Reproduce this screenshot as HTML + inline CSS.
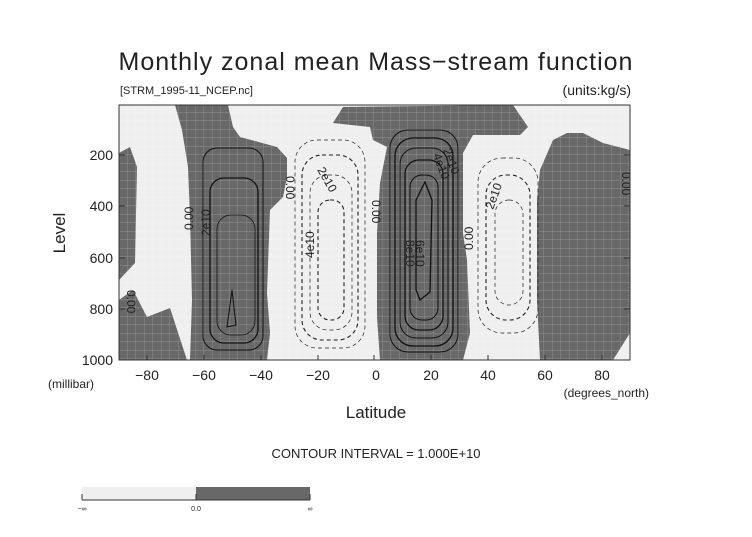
<!DOCTYPE html>
<html><head><style>
body{margin:0;background:#fff;}
svg text{font-family:"Liberation Sans",sans-serif;fill:#222;font-weight:300}
</style></head><body>
<svg width="752" height="532" viewBox="0 0 752 532" xmlns="http://www.w3.org/2000/svg">
<defs>
<pattern id="g" x="119" y="104" width="8.5" height="8.5" patternUnits="userSpaceOnUse">
<path d="M8.5 0V8.5M0 8.5H8.5" stroke="#fff" stroke-opacity="0.35" stroke-width="0.7" fill="none"/>
</pattern>
<clipPath id="c"><rect x="119" y="105" width="511" height="255"/></clipPath>
</defs>
<text x="376" y="70" font-size="25" text-anchor="middle" letter-spacing="1">Monthly zonal mean Mass−stream function</text>
<text x="120" y="94" font-size="11">[STRM_1995-11_NCEP.nc]</text>
<text x="631" y="95" font-size="14" text-anchor="end">(units:kg/s)</text>
<g clip-path="url(#c)">
<rect x="119" y="105" width="511" height="255" fill="#efefef"/>
<g fill="#686868">
<path d="M119 153 L130 147 L137 167 L135 263 L119 280 Z"/>
<path d="M119 300 L133 290 L147 317 L170 308 L187 360 L119 360 Z"/>
<path d="M175 105 L228 105 L233 127 L240 137 L277 147 L287 158 L287 177 L283 197 L270 210 L267 293 L270 333 L267 360 L190 360 L192 300 L190 217 L188 167 L182 130 Z"/>
<path d="M333 123 L343 107 L513 105 L528 127 L520 135 L473 135 L463 153 L463 233 L467 260 L470 333 L463 360 L380 360 L377 317 L377 233 L380 183 L387 147 L373 140 L370 127 Z"/>
<path d="M540 170 L553 140 L567 133 L583 133 L603 143 L630 150 L630 333 L613 360 L540 360 L537 300 L537 200 Z"/>
</g>
<rect x="119" y="105" width="511" height="255" fill="url(#g)"/>
<g fill="none" stroke="#111" stroke-width="1">
<rect x="203" y="148" width="60" height="202" rx="14"/>
<rect x="210" y="178" width="48" height="165" rx="14" stroke-width="1.3"/>
<rect x="217" y="215" width="38" height="120" rx="14" stroke-width="0.8"/>
<path d="M227 327 L232 290 L236 325 Z"/>
<rect x="390" y="130" width="68" height="222" rx="18"/>
<rect x="395" y="138" width="58" height="208" rx="18" stroke-width="1.3"/>
<rect x="400" y="148" width="48" height="190" rx="16"/>
<rect x="405" y="160" width="38" height="170" rx="14" stroke-width="1.3"/>
<rect x="410" y="175" width="28" height="145" rx="12"/>
<path d="M416 200 L425 182 L432 200 L430 292 L420 300 L416 290 Z" stroke-width="1.3"/>
</g>
<g fill="none" stroke="#222" stroke-dasharray="4,3">
<rect x="295" y="140" width="70" height="208" rx="22" stroke-width="0.7"/>
<rect x="302" y="155" width="56" height="185" rx="20" stroke-width="1.1"/>
<rect x="310" y="175" width="42" height="155" rx="18" stroke-width="0.7"/>
<rect x="318" y="200" width="26" height="120" rx="12" stroke-width="1.1"/>
<rect x="478" y="158" width="60" height="175" rx="24" stroke-width="0.7"/>
<rect x="486" y="175" width="44" height="145" rx="20" stroke-width="1.1"/>
<rect x="495" y="200" width="28" height="105" rx="14" stroke-width="0.7"/>
</g>
<g font-size="12">
<text transform="translate(286,176) rotate(90)">0.00</text>
<text transform="translate(193,230) rotate(-90)">0.00</text>
<text transform="translate(210,236) rotate(-90)">2e10</text>
<text transform="translate(317,170) rotate(60)">2e10</text>
<text transform="translate(314,258) rotate(-90)">4e10</text>
<text transform="translate(372,200) rotate(90)">0.00</text>
<text transform="translate(416,240) rotate(90)">6e10</text>
<text transform="translate(406,240) rotate(90)">8e10</text>
<text transform="translate(443,150) rotate(70)">2e10</text>
<text transform="translate(433,155) rotate(70)">4e10</text>
<text transform="translate(473,250) rotate(-90)">0.00</text>
<text transform="translate(493,210) rotate(-70)">2e10</text>
<text transform="translate(622,172) rotate(90)">0.00</text>
<text transform="translate(127,290) rotate(90)">0.00</text>
</g>
</g>
<rect x="119" y="105" width="511" height="255" fill="none" stroke="#333" stroke-width="1"/>
<g stroke="#333">
<path d="M119 155h6M119 206h6M119 258h6M119 309h6M624 155h6M624 206h6M624 258h6M624 309h6"/>
<path d="M147 360v-5M204 360v-5M261 360v-5M318 360v-5M374 360v-5M431 360v-5M488 360v-5M545 360v-5M602 360v-5"/>
</g>
<g font-size="14" text-anchor="end">
<text x="113" y="160">200</text><text x="113" y="211">400</text><text x="113" y="263">600</text><text x="113" y="314">800</text><text x="113" y="365">1000</text>
</g>
<g font-size="14" text-anchor="middle">
<text x="147" y="380">−80</text><text x="204" y="380">−60</text><text x="261" y="380">−40</text><text x="318" y="380">−20</text><text x="376" y="380">0</text><text x="431" y="380">20</text><text x="488" y="380">40</text><text x="545" y="380">60</text><text x="602" y="380">80</text>
</g>
<text x="48" y="388" font-size="12">(millibar)</text>
<text x="649" y="397" font-size="12" text-anchor="end">(degrees_north)</text>
<text x="376" y="418" font-size="17" text-anchor="middle">Latitude</text>
<text transform="translate(65,233) rotate(-90)" font-size="17" text-anchor="middle">Level</text>
<text x="376" y="458" font-size="13" text-anchor="middle">CONTOUR INTERVAL = 1.000E+10</text>
<rect x="82" y="487" width="114" height="13" fill="#efefef"/>
<rect x="196" y="487" width="114" height="13" fill="#686868"/>
<path d="M82 500H310M82 494V500M196 494V500M310 494V500" stroke="#333" fill="none"/>
<text x="82" y="511" font-size="7" text-anchor="middle">−∞</text>
<text x="196" y="511" font-size="7" text-anchor="middle">0.0</text>
<text x="310" y="511" font-size="7" text-anchor="middle">∞</text>
</svg>
</body></html>
